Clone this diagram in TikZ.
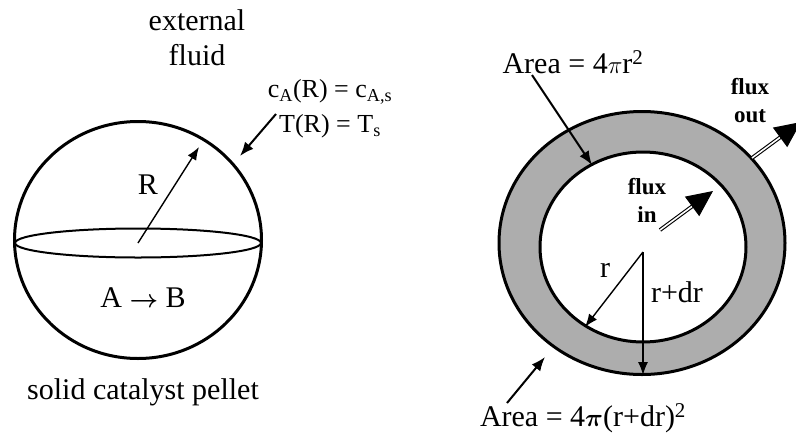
\documentclass[tikz,border=0pt]{standalone}
\usepackage{fontspec}
\setmainfont{Liberation Serif}
\usetikzlibrary{calc, positioning}
\usetikzlibrary{arrows.meta}

\begin{document}
\begin{tikzpicture}[x=1pt, y=-1pt,
  lbl/.style={font=\fontsize{30}{35}\selectfont, inner sep=0pt, align=center},
  smalllbl/.style={font=\fontsize{26}{35}\selectfont, inner sep=0pt, align=center},
  fluxlbl/.style={font=\fontsize{23}{28}\bfseries\selectfont, inner sep=0pt, align=center},
  pointer/.style={line width=2pt, -{Latex[length=14pt, width=11pt]}},
  radarrow/.style={line width=1.4pt, -{Latex[length=13pt, width=10pt]}},
  fluxshaft/.style={double, double distance=1.6pt, line width=1.1pt},
  fluxhead/.style={line width=1pt, -{Triangle[length=26pt, width=24pt]}}]
\useasboundingbox (0,0) rectangle (796,437);

% solid pellet
\coordinate (pc) at (138,240);
\coordinate (ec) at (138,243);
\draw[line width=3pt] (pc) ellipse [x radius=123.5, y radius=118.5];
\draw[line width=2pt] (ec) ellipse [x radius=123, y radius=14.5];
\coordinate (Rtip) at (199,147);
\draw[radarrow] (ec) -- (Rtip);
\node[lbl] (Rlbl) at (148,185) {R};
\node[lbl] (rxn) at (143,298) {A {\boldmath$\rightarrow$} B};
\node[lbl] (pellet) at (143,392) {solid catalyst pellet};
\node[lbl] (fluid) at (197,38) {external\\fluid};
\node[smalllbl] (bc) at (330,109) {c\textsubscript{A}(R) = c\textsubscript{A,s}\\T(R) = T\textsubscript{s}};
\coordinate (bc0) at (276,114);
\coordinate (bc1) at (240,156);
\draw[pointer] (bc0) -- (bc1);

% spherical shell
\coordinate (oc) at (642,243);
\coordinate (ic) at (643,247);
\fill[black!32, even odd rule] (oc) ellipse [x radius=143, y radius=131.5]
  (ic) ellipse [x radius=103, y radius=95];
\draw[line width=3pt] (oc) ellipse [x radius=143, y radius=131.5];
\draw[line width=3pt] (ic) ellipse [x radius=103, y radius=95];

\coordinate (sc) at (643,252);
\coordinate (rtip) at (585,327);
\coordinate (drtip) at (643,375);
\draw[radarrow] (sc) -- (rtip);
\draw[radarrow] (sc) -- (drtip);
\node[lbl] (rlbl) at (605,270) {r};
\node[lbl] (drlbl) at (677,292) {r+dr};

\node[lbl] (ain) at (573,62) {Area = 4$\pi$r\textsuperscript{2}};
\node[lbl] (aout) at (583,418) {Area = 4{\boldmath$\pi$}(r+dr)\textsuperscript{2}};
\coordinate (ain0) at (532,75);
\coordinate (ain1) at (592,165);
\coordinate (aout0) at (507,403);
\coordinate (aout1) at (545,357);
\draw[pointer] (ain0) -- (ain1);
\draw[pointer] (aout0) -- (aout1);

% flux arrows
\node[fluxlbl] (fin) at (647,200) {flux\\in};
\node[fluxlbl] (fout) at (750,101) {flux\\out};
\coordinate (fin0) at (660,230);
\coordinate (fin1) at (713,191);
\coordinate (fout0) at (752,158);
\coordinate (fout1) at (801,122);
\draw[fluxshaft] (fin0) -- ($(fin1)!22pt!(fin0)$);
\draw[fluxhead] ($(fin1)!2pt!(fin0)$) -- (fin1);
\draw[fluxshaft] (fout0) -- ($(fout1)!22pt!(fout0)$);
\draw[fluxhead] ($(fout1)!2pt!(fout0)$) -- (fout1);
\end{tikzpicture}
\end{document}
